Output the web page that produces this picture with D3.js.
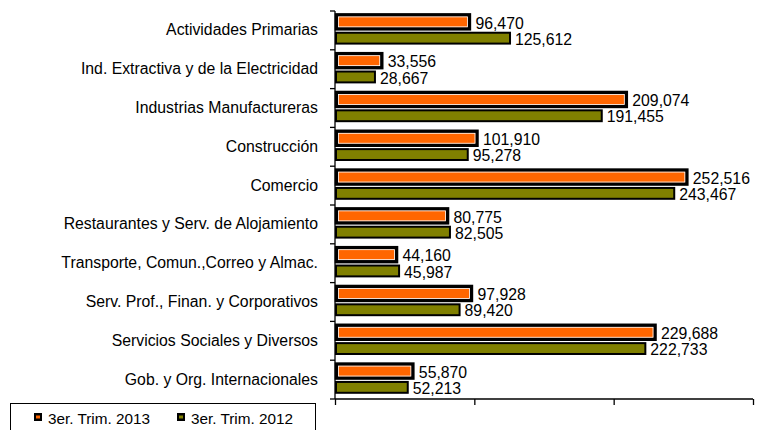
<!DOCTYPE html>
<html>
<head>
<meta charset="utf-8">
<script src="https://cdn.jsdelivr.net/npm/d3@7"></script>
<style>
  body { margin: 0; background: #fff; }
  svg { display: block; font-family: "Liberation Sans", Arial, sans-serif; }
  svg text { font-family: "Liberation Sans", Arial, sans-serif; }
</style>
</head>
<body>
<svg class="container"></svg>
<script>
const categories = [
  "Actividades Primarias",
  "Ind. Extractiva y de la Electricidad",
  "Industrias Manufactureras",
  "Construcción",
  "Comercio",
  "Restaurantes y Serv. de Alojamiento",
  "Transporte, Comun.,Correo y Almac.",
  "Serv. Prof., Finan. y Corporativos",
  "Servicios Sociales y Diversos",
  "Gob. y Org. Internacionales"
]
const trim2013 = [96470, 33556, 209074, 101910, 252516, 80775, 44160, 97928, 229688, 55870]
const trim2012 = [125612, 28667, 191455, 95278, 243467, 82505, 45987, 89420, 222733, 52213]
const seriesNames = ["3er. Trim. 2013", "3er. Trim. 2012"]
const xTicks = [0, 100000, 200000, 300000]

const width = 758, height = 430
const margin = { left: 335, right: 5, top: 11, bottom: 31 }
const colors = { "3er. Trim. 2013": "#ff6600", "3er. Trim. 2012": "#808000" }

const svg = d3.select(".container").attr("width", width).attr("height", height)

const xScale = d3.scaleLinear().domain([0, 300000]).range([margin.left, width - margin.right])
const yScale = d3.scaleBand().domain(categories).range([margin.top, height - margin.bottom])
const fmt = d3.format(",")

const rows = categories.map((c, i) => ({ cat: c, v13: trim2013[i], v12: trim2012[i] }))

// bars - 2013 (orange, thick border)
const bw = yScale.bandwidth()
svg.selectAll(".bar13").data(rows).join("rect")
  .attr("class", "bar13")
  .attr("x", xScale(0) + 1.5)
  .attr("y", d => yScale(d.cat) + bw * 0.1)
  .attr("width", d => xScale(d.v13) - xScale(0) - 1.5)
  .attr("height", bw * 0.36)
  .attr("fill", colors[seriesNames[0]])
  .attr("stroke", "#000")
  .attr("stroke-width", 3.5)
svg.selectAll(".bar13in").data(rows).join("rect")
  .attr("class", "bar13in")
  .attr("x", xScale(0) + 3.5)
  .attr("y", d => yScale(d.cat) + bw * 0.1 + 2)
  .attr("width", d => xScale(d.v13) - xScale(0) - 5.5)
  .attr("height", bw * 0.36 - 4)
  .attr("fill", "none")
  .attr("stroke", "#fff")
  .attr("stroke-width", 0.8)

// bars - 2012 (olive)
svg.selectAll(".bar12").data(rows).join("rect")
  .attr("class", "bar12")
  .attr("x", xScale(0) + 1)
  .attr("y", d => yScale(d.cat) + bw * 0.56)
  .attr("width", d => xScale(d.v12) - xScale(0) - 1)
  .attr("height", bw * 0.28)
  .attr("fill", colors[seriesNames[1]])
  .attr("stroke", "#000")
  .attr("stroke-width", 2)

// value labels
svg.selectAll(".lab13").data(rows).join("text")
  .attr("class", "lab13")
  .attr("x", d => xScale(d.v13) + 6)
  .attr("y", d => yScale(d.cat) + 17.5)
  .style("font-size", "15.8px")
  .text(d => fmt(d.v13))
svg.selectAll(".lab12").data(rows).join("text")
  .attr("class", "lab12")
  .attr("x", d => xScale(d.v12) + 5)
  .attr("y", d => yScale(d.cat) + 33.8)
  .style("font-size", "15.8px")
  .text(d => fmt(d.v12))

// y axis
const yAxis = d3.axisLeft(yScale).tickSize(0).tickPadding(17)
svg.append("g").attr("transform", `translate(${margin.left},0)`)
  .call(yAxis)
  .call(g => g.select(".domain").remove())
  .selectAll("text").style("font-size", "15.8px").style("fill", "#000")
const bounds = d3.range(categories.length + 1).map(i => margin.top + i * bw)
svg.selectAll(".ytick").data(bounds).join("line")
  .attr("class", "ytick")
  .attr("x1", margin.left - 5).attr("x2", margin.left)
  .attr("y1", d => d).attr("y2", d => d)
  .attr("stroke", "#000").attr("stroke-width", 1.3)
svg.append("line")
  .attr("x1", margin.left).attr("x2", margin.left)
  .attr("y1", margin.top).attr("y2", height - margin.bottom)
  .attr("stroke", "#000").attr("stroke-width", 1.3)

// x axis (no labels)
svg.append("g").attr("transform", `translate(0,${height - margin.bottom})`)
  .call(d3.axisBottom(xScale).tickValues(xTicks).tickSize(6).tickFormat(""))
  .call(g => g.select(".domain").attr("stroke-width", 1.3).attr("d", `M${margin.left},0H${width - margin.right}`))
  .call(g => g.selectAll(".tick line").attr("stroke-width", 1.3))

// legend
const legend = svg.append("g")
legend.append("rect")
  .attr("x", 10.5).attr("y", 403.5).attr("width", 305).attr("height", 40)
  .attr("fill", "#fff").attr("stroke", "#000").attr("stroke-width", 1)
seriesNames.forEach((s, i) => {
  const lx = [34, 177][i]
  const g = legend.append("g").attr("transform", `translate(${lx},413)`)
  g.append("rect").attr("width", 8).attr("height", 8).attr("fill", "#000")
  g.append("rect").attr("x", 2).attr("y", 2.5).attr("width", 4).attr("height", 3).attr("fill", colors[s])
  g.append("text").attr("x", 14).attr("y", 10.5).style("font-size", "15.3px").text(s)
})
</script>
</body>
</html>
